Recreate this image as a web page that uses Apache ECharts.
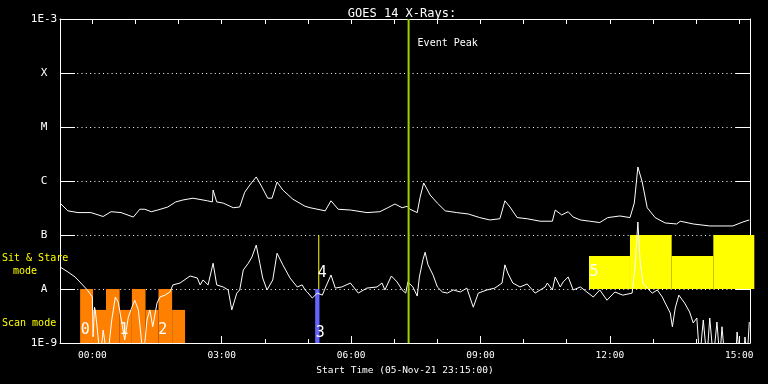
<!DOCTYPE html>
<html><head><meta charset="utf-8">
<script src="https://cdn.jsdelivr.net/npm/echarts@6/dist/echarts.min.js"></script>
<style>html,body{margin:0;padding:0;background:#000;}#c{width:768px;height:384px;}</style>
</head><body><div id="c"></div>
<script>
// ---- text ----
const chartTitle = 'GOES 14 X-Rays:';
const axisName = 'Start Time (05-Nov-21 23:15:00)';
// x values are minutes from 06-Nov-21 00:00 UT
const xMin = -45, xMax = 915;
const labelTicks = [0, 180, 360, 540, 720, 900];
const hourTicks = [0, 60, 120, 180, 240, 300, 360, 420, 480, 540, 600, 660, 720, 780, 840, 900];
const yTickNames = {'-9': '1E-9', '-8': 'A', '-7': 'B', '-6': 'C', '-5': 'M', '-4': 'X', '-3': '1E-3'};

// ---- long channel (upper curve) ----
const longTime = [-45,-34,-20,-2,15,26,40,57,66,73,82,91,105,116,126,140,160,167,168,173,182,196,205,212,219,228,236,244,250,257,265,279,296,303,324,332,342,359,382,400,411,421,431,438,442,452,456,461,470,480,491,507,523,539,553,567,574,581,591,605,623,640,644,653,662,669,679,692,706,717,734,748,754,759,765,772,783,797,813,818,836,859,891,905,914];
const longFlux = [3.9e-7,2.8e-7,2.6e-7,2.6e-7,2.2e-7,2.7e-7,2.6e-7,2.15e-7,3.0e-7,3.0e-7,2.7e-7,2.9e-7,3.3e-7,4.1e-7,4.45e-7,4.8e-7,4.3e-7,4.1e-7,6.8e-7,4.1e-7,3.9e-7,3.2e-7,3.3e-7,6.2e-7,8.4e-7,1.19e-6,7.7e-7,4.8e-7,4.8e-7,9.6e-7,6.8e-7,4.6e-7,3.4e-7,3.2e-7,2.8e-7,4.3e-7,3.0e-7,2.9e-7,2.6e-7,2.7e-7,3.2e-7,3.75e-7,3.2e-7,3.4e-7,3.0e-7,2.6e-7,5.0e-7,9.2e-7,5.5e-7,3.9e-7,2.8e-7,2.6e-7,2.45e-7,2.1e-7,1.9e-7,2.0e-7,4.3e-7,3.3e-7,2.1e-7,2.0e-7,1.8e-7,1.8e-7,2.9e-7,2.35e-7,2.7e-7,2.15e-7,1.9e-7,1.8e-7,1.7e-7,2.1e-7,2.25e-7,2.1e-7,3.9e-7,1.82e-6,9.6e-7,3.2e-7,2.1e-7,1.67e-7,1.6e-7,1.8e-7,1.6e-7,1.47e-7,1.47e-7,1.74e-7,1.9e-7];

// ---- short channel (lower curve) ----
const shortTime = [-45,-34,-24,-16,-7,0,1,3,4,7,11,15,21,27,32,36,41,45,50,55,59,64,71,76,80,84,90,94,101,108,112,122,136,146,150,154,161,168,173,182,189,194,201,205,210,217,222,228,233,237,243,251,257,265,275,285,292,296,299,306,313,320,324,332,338,347,359,370,382,396,403,407,416,424,431,436,439,446,452,455,460,463,467,474,480,487,494,502,512,521,530,537,549,560,570,574,578,585,595,605,616,630,633,640,644,651,655,662,669,679,688,697,706,716,727,738,751,755,759,762,766,772,779,786,793,797,804,807,811,816,824,831,836,841,845,850,855,859,864,869,873,876,880,895,897,901,906,908,911,913,914];
const shortFlux = [2.56e-8,2.07e-8,1.67e-8,1.29e-8,9.6e-9,7.1e-9,1.29e-9,4.6e-9,4.1e-9,1.74e-9,5e-10,1.74e-9,5e-10,2.67e-9,7.1e-9,5.7e-9,2.35e-9,1.14e-9,3.0e-9,4.6e-9,6.2e-9,4.1e-9,5e-10,2.67e-9,4.1e-9,2.0e-9,5.5e-9,7.1e-9,7.7e-9,8.8e-9,1.19e-8,1.29e-8,1.74e-8,1.6e-8,1.19e-8,1.47e-8,1.19e-8,3.0e-8,1.19e-8,1.09e-8,9.6e-9,4.1e-9,8.4e-9,9.6e-9,2.25e-8,3.0e-8,3.9e-8,6.5e-8,3.0e-8,1.6e-8,9.6e-9,1.47e-8,4.6e-8,2.8e-8,1.6e-8,1.09e-8,1.19e-8,9.6e-9,8.8e-9,6.8e-9,8.4e-9,7.7e-9,1.04e-8,1.82e-8,1.04e-8,1.09e-8,1.29e-8,8.4e-9,1.04e-8,1.09e-8,1.29e-8,9.6e-9,1.74e-8,1.35e-8,9.6e-9,8.4e-9,1.35e-8,1.09e-8,7.4e-9,1.67e-8,3.5e-8,4.8e-8,2.8e-8,1.82e-8,1.09e-8,8.8e-9,8.4e-9,9.6e-9,8.8e-9,1.04e-8,4.6e-9,8.4e-9,9.6e-9,1.04e-8,1.29e-8,2.8e-8,1.98e-8,1.29e-8,1.09e-8,1.24e-8,8.4e-9,1.09e-8,1.29e-8,9.6e-9,1.67e-8,1.09e-8,1.35e-8,1.67e-8,9.6e-9,1.09e-8,8.8e-9,7.1e-9,9.6e-9,6.2e-9,8.8e-9,7.7e-9,8.4e-9,2.56e-8,1.74e-7,3.44e-8,1.29e-8,1.04e-8,8.4e-9,9.6e-9,7.1e-9,5.5e-9,3.6e-9,2.0e-9,4.45e-9,7.7e-9,5.5e-9,3.75e-9,2.35e-9,2.9e-9,5e-10,2.67e-9,5e-10,2.9e-9,5e-10,2.45e-9,5e-10,2.0e-9,5e-10,5e-10,1.6e-9,5e-10,5e-10,1.29e-9,5e-10,5e-10,2.45e-9];

// ---- scan mode blocks (orange) ----
const scanStart = [-17, 1, 19, 38, 55, 74, 92, 111];
const scanEnd   = [1, 19, 38, 55, 74, 92, 111, 129];
const scanTop   = [1e-8, 4.1e-9, 1e-8, 4.1e-9, 1e-8, 4.1e-9, 1e-8, 4.1e-9];
const scanBottom = 1e-9;

// ---- sit & stare blocks (yellow) ----
const stareStart = [691, 748, 806, 864];
const stareEnd   = [748, 806, 864, 921];
const stareTop   = [4.1e-8, 1e-7, 4.1e-8, 1e-7];
const stareBottom = 1e-8;

// ---- segment numbers ----
const segText = ['0', '1', '2', '3', '4', '5'];
const segTime = [-10, 44, 98, 317, 320, 698];
const segFlux = [1.74e-9, 1.74e-9, 1.74e-9, 1.53e-9, 1.98e-8, 2.07e-8];

// ---- markers ----
const eventPeakTime = 440;
const eventPeakText = 'Event Peak';
const pointerTime = 315;
const pointerFlux = [1e-8, 1e-7];
const blueStart = 310, blueEnd = 316;
const blueFlux = [1e-9, 1e-8];

const MONO = '"DejaVu Sans Mono", monospace';
const pad = n => (n < 10 ? '0' : '') + n;
const fmtTime = v => pad(Math.floor(v / 60)) + ':' + pad(Math.round(v % 60));

function rectRender(color) {
  return function (params, api) {
    const p0 = api.coord([api.value(0), api.value(2)]);
    const p1 = api.coord([api.value(1), api.value(3)]);
    return {type: 'rect', shape: {x: p0[0], y: p0[1], width: p1[0] - p0[0], height: p1[1] - p0[1]}, style: {fill: color}};
  };
}

const chart = echarts.init(document.getElementById('c'), null, {renderer: 'canvas'});
const option = {
  backgroundColor: '#000',
  animation: false,
  title: {text: chartTitle, left: 397, top: 3, textAlign: 'center',
    textStyle: {color: '#fff', fontFamily: MONO, fontSize: 12, fontWeight: 'normal'}},
  grid: {left: 60, right: 18, top: 19, bottom: 41, containLabel: false, outerBoundsMode: 'none'},
  xAxis: [
    {type: 'value', position: 'bottom', min: xMin, max: xMax,
      name: axisName, nameLocation: 'middle', nameGap: 19,
      nameTextStyle: {color: '#fff', fontFamily: MONO, fontSize: 9.5},
      axisLine: {show: true, onZero: false, lineStyle: {color: '#fff', width: 1}},
      axisTick: {show: true, inside: true, length: 7, customValues: labelTicks, lineStyle: {color: '#fff', width: 1}},
      axisLabel: {show: true, customValues: labelTicks, formatter: fmtTime, color: '#fff', fontFamily: MONO, fontSize: 9.5, margin: 8},
      splitLine: {show: false}},
    {type: 'value', position: 'bottom', min: xMin, max: xMax,
      axisLine: {show: false, onZero: false},
      axisTick: {show: true, inside: true, length: 4, customValues: hourTicks, lineStyle: {color: '#fff', width: 1}},
      axisLabel: {show: false}, splitLine: {show: false}},
    {type: 'value', position: 'top', min: xMin, max: xMax,
      axisLine: {show: true, onZero: false, lineStyle: {color: '#fff', width: 1}},
      axisTick: {show: true, inside: true, length: 5, customValues: hourTicks, lineStyle: {color: '#fff', width: 1}},
      axisLabel: {show: false}, splitLine: {show: false}}
  ],
  yAxis: [
    {type: 'log', logBase: 10, min: 1e-9, max: 1e-3, position: 'left',
      axisLine: {show: true, onZero: false, lineStyle: {color: '#fff', width: 1}},
      axisTick: {show: true, inside: true, length: 15, lineStyle: {color: '#fff', width: 1}},
      axisLabel: {show: true, color: '#fff', fontFamily: MONO, fontSize: 11, align: 'center', margin: 16,
        formatter: v => yTickNames[String(Math.round(Math.log10(v)))] || ''},
      splitLine: {show: true, lineStyle: {color: '#fff', width: 1, type: [1, 3.3]}}},
    {type: 'log', logBase: 10, min: 1e-9, max: 1e-3, position: 'right',
      axisLine: {show: true, onZero: false, lineStyle: {color: '#fff', width: 1}},
      axisTick: {show: true, inside: true, length: 14, lineStyle: {color: '#fff', width: 1}},
      axisLabel: {show: false}, splitLine: {show: false}}
  ],
  graphic: [
    {type: 'text', left: 2, top: 253, z: 100, style: {text: 'Sit & Stare', fill: '#ffff00', font: '10px ' + MONO}},
    {type: 'text', left: 13, top: 266, z: 100, style: {text: 'mode', fill: '#ffff00', font: '10px ' + MONO}},
    {type: 'text', left: 2, top: 318, z: 100, style: {text: 'Scan mode', fill: '#ffff00', font: '10px ' + MONO}}
  ],
  series: [
    {type: 'custom', name: 'scan', coordinateSystem: 'cartesian2d', clip: false, z: 2,
      renderItem: rectRender('#ff8000'), encode: {x: [0, 1], y: [2, 3]},
      data: scanStart.map((s, i) => [s, scanEnd[i], scanTop[i], scanBottom])},
    {type: 'custom', name: 'stare', coordinateSystem: 'cartesian2d', clip: false, z: 2,
      renderItem: rectRender('#ffff00'), encode: {x: [0, 1], y: [2, 3]},
      data: stareStart.map((s, i) => [s, stareEnd[i], stareTop[i], stareBottom])},
    {type: 'custom', name: 'blue', coordinateSystem: 'cartesian2d', z: 3,
      renderItem: rectRender('#6464ff'), encode: {x: [0, 1], y: [2, 3]},
      data: [[blueStart, blueEnd, blueFlux[1], blueFlux[0]]]},
    {type: 'custom', name: 'pointer', coordinateSystem: 'cartesian2d', z: 3,
      renderItem: function (params, api) {
        const a = api.coord([api.value(0), api.value(1)]);
        const b = api.coord([api.value(0), api.value(2)]);
        return {type: 'line', shape: {x1: a[0], y1: a[1], x2: b[0], y2: b[1]}, style: {stroke: '#ffff00', lineWidth: 1}};
      },
      data: [[pointerTime, pointerFlux[0], pointerFlux[1]]]},
    {type: 'custom', name: 'segments', coordinateSystem: 'cartesian2d', z: 4,
      renderItem: function (params, api) {
        const p = api.coord([api.value(0), api.value(1)]);
        return {type: 'text', x: p[0], y: p[1], style: {text: segText[params.dataIndex], fill: '#ffffff',
          font: '15px ' + MONO, align: 'center', verticalAlign: 'middle'}};
      },
      data: segTime.map((t, i) => [t, segFlux[i]])},
    {type: 'line', name: 'long', showSymbol: false, symbol: 'none', z: 5, clip: true,
      lineStyle: {color: '#ffffff', width: 1}, itemStyle: {color: '#ffffff'},
      data: longTime.map((t, i) => [t, longFlux[i]])},
    {type: 'line', name: 'short', showSymbol: false, symbol: 'none', z: 5, clip: true,
      lineStyle: {color: '#ffffff', width: 1}, itemStyle: {color: '#ffffff'},
      data: shortTime.map((t, i) => [t, shortFlux[i]])},
    {type: 'custom', name: 'event', coordinateSystem: 'cartesian2d', z: 6,
      renderItem: function (params, api) {
        const top = api.coord([api.value(0), 1e-3]);
        const bot = api.coord([api.value(0), 1e-9]);
        return {type: 'group', children: [
          {type: 'line', shape: {x1: top[0], y1: top[1], x2: bot[0], y2: bot[1]}, style: {stroke: '#a0d000', lineWidth: 2}},
          {type: 'text', x: top[0] + 9, y: top[1] + 24, style: {text: eventPeakText, fill: '#ffffff',
            font: '10px ' + MONO, align: 'left', verticalAlign: 'middle'}}
        ]};
      },
      data: [[eventPeakTime]]}
  ]
};
chart.setOption(option);
</script></body></html>
